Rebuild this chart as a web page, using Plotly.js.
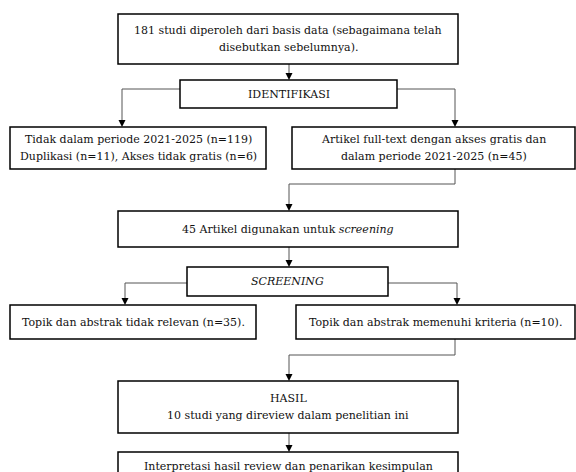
<!DOCTYPE html>
<html><head><meta charset="utf-8">
<script src="https://cdn.plot.ly/plotly-3.0.1.min.js"></script>
<style>html,body{margin:0;padding:0;background:#fff}#chart{width:576px;height:472px}</style>
</head><body><div id="chart"></div>
<script>
// ---- content (text of each flow box, one array entry per line) ----
const boxLines = [
  ["181 studi diperoleh dari basis data (sebagaimana telah", "disebutkan sebelumnya)."],
  ["IDENTIFIKASI"],
  ["Tidak dalam periode 2021-2025 (n=119)", "Duplikasi (n=11), Akses tidak gratis (n=6)"],
  ["Artikel full-text dengan akses gratis dan", "dalam periode 2021-2025 (n=45)"],
  ["45 Artikel digunakan untuk <i>screening</i>"],
  ["<i>SCREENING</i>"],
  ["Topik dan abstrak tidak relevan (n=35)."],
  ["Topik dan abstrak memenuhi kriteria (n=10)."],
  ["HASIL", "10 studi yang direview dalam penelitian ini"],
  ["Interpretasi hasil review dan penarikan kesimpulan"]
];

// ---- layout geometry (pixel-space positions, x0,x1,y0,y1) ----
const boxX0 = [118, 180, 10, 292, 118, 187, 10, 296, 118, 118];
const boxX1 = [458, 397, 266, 575, 458, 388, 256, 575, 458, 458];
const boxY0 = [14, 80, 127, 127, 211, 267, 305, 305, 381, 452];
const boxY1 = [64, 108, 169, 169, 247, 296, 339, 339, 433, 481];
const lineGap = 17.5;

// connectors: list of polyline points, arrow at the last point
const connectors = [
  [[289, 64], [289, 80]],
  [[180, 89], [122, 89], [122, 127]],
  [[397, 89], [455, 89], [455, 127]],
  [[455, 169], [455, 184], [289, 184], [289, 211]],
  [[289, 247], [289, 267]],
  [[187, 283], [125, 283], [125, 305]],
  [[388, 283], [457, 283], [457, 305]],
  [[455, 339], [455, 355], [289, 355], [289, 381]],
  [[289, 433], [289, 452]]
];

const FONT = {family: "DejaVu Serif", size: 11, color: "#111"};
const traces = [];
const shapes = [];
const annotations = [];

connectors.forEach(pts => {
  const xs = pts.map(p => p[0]), ys = pts.map(p => p[1]);
  const last = pts[pts.length - 1];
  ys[ys.length - 1] = last[1] - 5;
  traces.push({x: xs, y: ys, mode: "lines", line: {color: "#555", width: 1}, hoverinfo: "skip", showlegend: false});
  shapes.push({type: "path", xref: "x", yref: "y",
    path: `M ${last[0]-3.5} ${last[1]-7} L ${last[0]+3.5} ${last[1]-7} L ${last[0]} ${last[1]} Z`,
    fillcolor: "#000", line: {width: 0}});
});

boxLines.forEach((lines, i) => {
  shapes.push({type: "rect", xref: "x", yref: "y", x0: boxX0[i], x1: boxX1[i], y0: boxY0[i], y1: boxY1[i],
    line: {color: "#000", width: 1.5}, fillcolor: "rgba(0,0,0,0)"});
  const cx = (boxX0[i] + boxX1[i]) / 2;
  const cy = (boxY0[i] + boxY1[i]) / 2;
  const start = cy - (lines.length - 1) * lineGap / 2;
  lines.forEach((t, k) => {
    annotations.push({x: cx, y: start + k * lineGap, xref: "x", yref: "y", text: t, showarrow: false,
      font: FONT, xanchor: "center", yanchor: "middle"});
  });
});

const layout = {
  width: 576, height: 472,
  margin: {l: 0, r: 0, t: 0, b: 0},
  paper_bgcolor: "#fff", plot_bgcolor: "#fff",
  xaxis: {range: [0, 576], visible: false, fixedrange: true},
  yaxis: {range: [472, 0], visible: false, fixedrange: true},
  shapes: shapes, annotations: annotations, showlegend: false
};
Plotly.newPlot("chart", traces, layout, {displayModeBar: false, staticPlot: true});
</script></body></html>
